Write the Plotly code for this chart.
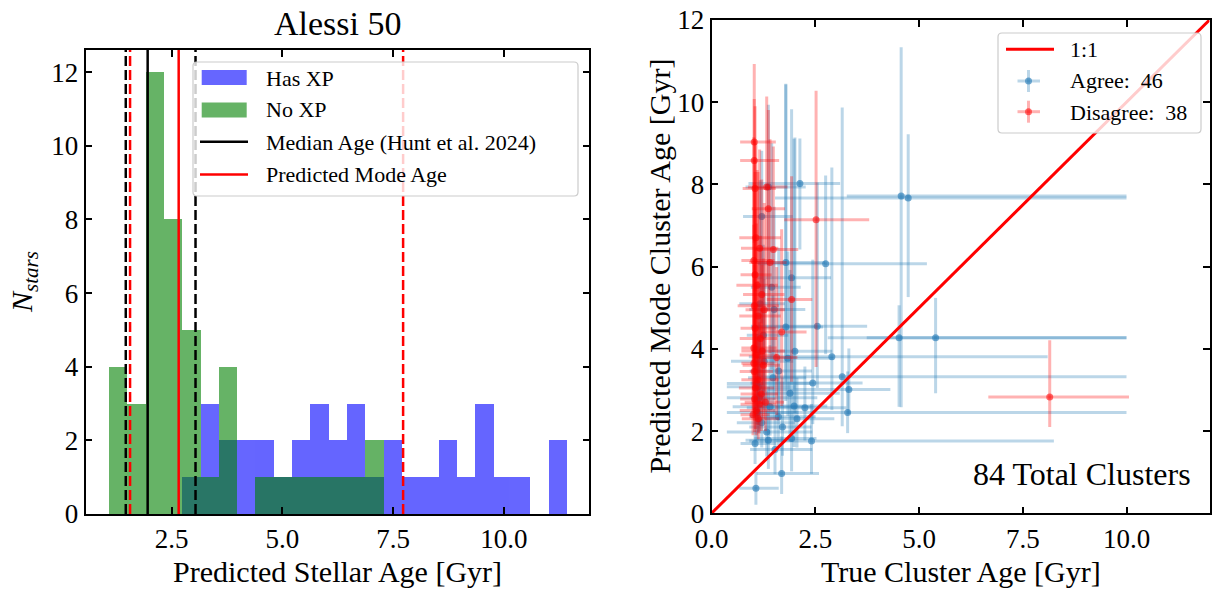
import numpy as np
import plotly.graph_objects as go

W, H = 1213, 590

# ---------------- Alessi 50 histogram (shared bins) ----------------
bin_lo, bin_hi, n_bins = 1.074, 11.41, 25
has_xp_counts = [0, 0, 0, 0, 1, 3, 2, 2, 2, 1, 2, 3, 2, 3, 1, 2, 1, 1, 2, 1, 3, 1, 1, 0, 2]
no_xp_counts = [4, 3, 12, 8, 5, 1, 4, 0, 1, 1, 1, 1, 1, 1, 2, 0, 0, 0, 0, 0, 0, 0, 0, 0, 0]

median_age = 1.96          # Hunt et al. 2024
median_age_bounds = [1.466, 3.04]
mode_age = 2.66            # predicted mode
mode_age_bounds = [1.563, 7.725]

# ---------------- cluster comparison ----------------
# true age, predicted age, x err (-), x err (+), y err (-), y err (+)
agree_x = [2.13, 1.21, 4.57, 4.74, 1.79, 2.75, 1.93, 1.51, 4.52, 5.40, 2.01, 2.90, 3.15, 3.31, 3.28, 2.25,
           2.41, 1.69, 1.07, 1.37, 1.93, 1.09, 1.33, 1.61, 1.84, 1.25, 1.37, 1.89, 1.15, 1.41, 1.21, 1.05,
           1.13, 1.62, 1.99, 1.79, 1.45, 1.27, 2.44, 1.53, 1.17, 2.55, 1.71, 2.06, 1.10, 1.48]
agree_y = [8.02, 7.22, 7.72, 7.67, 6.10, 6.07, 5.73, 4.96, 4.27, 4.27, 3.94, 3.81, 3.32, 3.01, 2.45, 2.57,
           1.76, 0.97, 0.61, 1.78, 1.82, 3.16, 1.98, 2.35, 3.77, 4.33, 7.94, 2.92, 2.81, 2.59, 2.20, 1.70,
           3.08, 3.46, 2.61, 4.53, 5.50, 3.70, 3.17, 1.55, 5.10, 4.55, 2.10, 2.30, 2.45, 3.30]
agree_xm = [1.24, 0.45, 1.31, 3.21, 0.75, 1.63, 0.85, 0.60, 0.78, 2.60, 1.00, 2.00, 2.00, 2.30, 2.20, 1.40,
            1.50, 0.60, 0.40, 0.55, 0.90, 0.72, 0.96, 0.70, 0.70, 0.40, 0.55, 0.80, 0.78, 0.90, 0.60, 0.35,
            0.76, 0.70, 0.90, 0.80, 0.50, 0.80, 1.50, 0.60, 0.50, 1.60, 0.80, 1.00, 0.73, 0.60]
agree_xp = [0.97, 0.75, 5.43, 5.26, 0.95, 2.44, 0.95, 0.75, 5.48, 4.60, 0.90, 5.20, 6.85, 1.00, 6.72, 1.00,
            5.84, 0.90, 0.55, 0.60, 0.60, 1.30, 1.10, 0.90, 1.10, 0.60, 0.90, 1.20, 1.40, 1.00, 0.80, 0.50,
            0.90, 0.80, 0.80, 0.90, 0.70, 0.70, 1.20, 0.90, 0.60, 1.20, 0.70, 0.90, 1.00, 0.80]
agree_ym = [1.60, 2.60, 5.14, 2.41, 2.90, 2.20, 2.60, 2.20, 1.68, 1.35, 1.50, 1.30, 1.20, 0.60, 0.50, 0.80,
            0.80, 0.50, 0.40, 0.70, 0.80, 1.00, 0.60, 0.70, 1.40, 1.70, 3.00, 1.00, 0.80, 0.70, 0.60, 0.50,
            1.10, 1.20, 1.00, 1.80, 2.00, 1.20, 1.00, 0.60, 1.80, 1.50, 0.70, 0.70, 0.70, 1.00]
agree_yp = [1.10, 1.60, 3.62, 1.55, 4.35, 2.15, 4.10, 2.50, 0.79, 0.97, 5.20, 4.60, 6.55, 1.00, 1.00, 1.00,
            0.90, 0.90, 0.40, 1.30, 1.20, 1.20, 1.00, 1.30, 2.60, 2.20, 2.00, 3.00, 1.50, 1.50, 1.00, 1.20,
            2.00, 3.00, 6.50, 5.90, 3.50, 2.00, 3.00, 1.00, 3.00, 3.50, 1.20, 1.00, 1.30, 2.00]

disagree_x = [1.03, 1.03, 1.05, 1.37, 2.52, 1.07, 1.49, 1.41, 1.93, 1.69, 1.57, 8.15, 1.33, 1.21, 1.02, 1.05,
              1.10, 1.03, 1.12, 1.05, 1.18, 1.02, 1.08, 1.25, 1.03, 1.12, 1.06, 1.20, 1.04, 1.15, 1.08, 1.00,
              1.13, 1.27, 1.30, 1.16, 1.22, 1.02]
disagree_y = [9.03, 8.58, 7.90, 7.41, 7.14, 6.70, 6.42, 6.10, 5.20, 4.41, 3.79, 2.83, 7.94, 5.32, 6.15, 5.80,
              5.55, 5.05, 4.80, 4.50, 4.25, 4.02, 3.85, 3.60, 3.45, 3.25, 3.05, 2.90, 2.78, 2.65, 2.50, 2.40,
              2.30, 4.95, 2.70, 6.45, 3.95, 3.65]
disagree_xm = [0.34, 0.34, 0.30, 0.40, 0.77, 0.40, 0.45, 0.50, 0.60, 0.50, 0.50, 1.48, 0.45, 0.45, 0.30, 0.35,
               0.50, 0.40, 0.45, 0.35, 0.50, 0.30, 0.40, 0.50, 0.35, 0.40, 0.40, 0.50, 0.35, 0.45, 0.40, 0.30,
               0.40, 0.45, 0.50, 0.45, 0.50, 0.30]
disagree_xp = [0.52, 0.60, 0.50, 0.40, 1.28, 0.60, 0.60, 0.40, 0.50, 0.60, 0.50, 1.91, 0.50, 0.55, 0.50, 0.40,
               0.50, 0.60, 0.55, 0.50, 0.40, 0.55, 0.50, 0.40, 0.45, 0.50, 0.45, 0.40, 0.50, 0.40, 0.45, 0.40,
               0.50, 0.50, 0.45, 0.45, 0.55, 0.50]
disagree_ym = [1.80, 2.00, 2.50, 2.50, 3.58, 2.80, 2.50, 2.20, 2.00, 1.80, 1.40, 0.73, 2.40, 2.20, 2.50, 2.30,
               2.40, 2.00, 2.00, 1.80, 1.60, 1.50, 1.50, 1.30, 1.20, 1.10, 1.00, 0.90, 0.80, 0.70, 0.60, 0.50,
               0.50, 2.00, 0.70, 2.60, 1.40, 1.30]
disagree_yp = [1.90, 1.50, 2.00, 2.40, 3.14, 2.30, 2.50, 3.00, 3.00, 2.50, 2.20, 1.38, 2.20, 2.80, 3.00, 2.50,
               2.80, 3.00, 3.50, 2.90, 2.50, 3.00, 3.20, 2.60, 2.60, 2.40, 2.50, 2.10, 2.20, 2.00, 1.80, 1.70,
               1.50, 2.60, 2.30, 2.40, 2.10, 3.60]

one_to_one = [0, 12]

# ---------------- styling ----------------
FONT = "Liberation Serif"
TICK_FS, LABEL_FS, LEG_FS = 27, 30, 22
BLUE_T = "rgba(31,119,180,0.3)"
BLUE_M = "rgba(31,119,180,0.6)"
RED_T = "rgba(255,0,0,0.3)"
RED_M = "rgba(255,0,0,0.55)"


def fx(p):
    return p / W


def fy(p):
    return 1 - p / H


edges = np.linspace(bin_lo, bin_hi, n_bins + 1)
centers = 0.5 * (edges[:-1] + edges[1:])
bw = edges[1] - edges[0]
span = edges[-1] - edges[0]
hist_xrange = [edges[0] - 0.05 * span, edges[-1] + 0.05 * span]
hist_yrange = [0, 1.05 * max(max(has_xp_counts), max(no_xp_counts))]

fig = go.Figure()

fig.add_trace(go.Bar(x=centers, y=has_xp_counts, width=bw, marker=dict(color="blue", line=dict(width=0)),
                     opacity=0.6, xaxis="x", yaxis="y", showlegend=False))
fig.add_trace(go.Bar(x=centers, y=no_xp_counts, width=bw, marker=dict(color="green", line=dict(width=0)),
                     opacity=0.6, xaxis="x", yaxis="y", showlegend=False))

fig.add_trace(go.Scatter(
    x=agree_x, y=agree_y, mode="markers", xaxis="x2", yaxis="y2", showlegend=False,
    marker=dict(color=BLUE_M, size=7, line=dict(width=0)),
    error_x=dict(type="data", symmetric=False, array=agree_xp, arrayminus=agree_xm, color=BLUE_T, thickness=3, width=0),
    error_y=dict(type="data", symmetric=False, array=agree_yp, arrayminus=agree_ym, color=BLUE_T, thickness=3, width=0),
))
fig.add_trace(go.Scatter(
    x=disagree_x, y=disagree_y, mode="markers", xaxis="x2", yaxis="y2", showlegend=False,
    marker=dict(color=RED_M, size=7, line=dict(width=0)),
    error_x=dict(type="data", symmetric=False, array=disagree_xp, arrayminus=disagree_xm, color=RED_T, thickness=3, width=0),
    error_y=dict(type="data", symmetric=False, array=disagree_yp, arrayminus=disagree_ym, color=RED_T, thickness=3, width=0),
))
fig.add_trace(go.Scatter(x=one_to_one, y=one_to_one, mode="lines", line=dict(color="red", width=3),
                         xaxis="x2", yaxis="y2", showlegend=False))

shapes = []
for xv in median_age_bounds:
    shapes.append(dict(type="line", xref="x", yref="y domain", x0=xv, x1=xv, y0=0, y1=1,
                       line=dict(color="black", width=2.5, dash="10px,4px")))
for xv in mode_age_bounds:
    shapes.append(dict(type="line", xref="x", yref="y domain", x0=xv, x1=xv, y0=0, y1=1,
                       line=dict(color="red", width=2.5, dash="10px,4px")))
shapes.append(dict(type="line", xref="x", yref="y domain", x0=median_age, x1=median_age, y0=0, y1=1,
                   line=dict(color="black", width=2.5)))
shapes.append(dict(type="line", xref="x", yref="y domain", x0=mode_age, x1=mode_age, y0=0, y1=1,
                   line=dict(color="red", width=2.5)))


def rounded_box(x0, y0, x1, y1, r=4):
    # pixel box -> paper-space SVG path with rounded corners
    rx, ry = r / W, r / H
    a, b, c, d = fx(x0), fy(y0), fx(x1), fy(y1)  # b is top, d is bottom
    return (f"M {a+rx},{b} L {c-rx},{b} Q {c},{b} {c},{b-ry} L {c},{d+ry} Q {c},{d} {c-rx},{d} "
            f"L {a+rx},{d} Q {a},{d} {a},{d+ry} L {a},{b-ry} Q {a},{b} {a+rx},{b} Z")


annotations = []


def legend_text(x, y, s):
    annotations.append(dict(text=s, x=fx(x), y=fy(y), xref="paper", yref="paper", xanchor="left",
                            yanchor="middle", showarrow=False, font=dict(family=FONT, size=LEG_FS, color="black")))


# legend of the histogram panel
shapes.append(dict(type="path", xref="paper", yref="paper", path=rounded_box(193, 62, 578, 196),
                   fillcolor="rgba(255,255,255,0.8)", line=dict(color="#cccccc", width=1.2)))
shapes.append(dict(type="rect", xref="paper", yref="paper", x0=fx(201.7), x1=fx(246.7), y0=fy(85), y1=fy(70),
                   fillcolor="blue", opacity=0.6, line=dict(width=0)))
shapes.append(dict(type="rect", xref="paper", yref="paper", x0=fx(201.7), x1=fx(246.7), y0=fy(117.5), y1=fy(102.5),
                   fillcolor="green", opacity=0.6, line=dict(width=0)))
shapes.append(dict(type="line", xref="paper", yref="paper", x0=fx(200), x1=fx(248), y0=fy(141.7), y1=fy(141.7),
                   line=dict(color="black", width=2.5)))
shapes.append(dict(type="line", xref="paper", yref="paper", x0=fx(200), x1=fx(248), y0=fy(174.5), y1=fy(174.5),
                   line=dict(color="red", width=2.5)))
legend_text(264, 78, "Has XP")
legend_text(264, 110, "No XP")
legend_text(264, 142, "Median Age (Hunt et al. 2024)")
legend_text(264, 174, "Predicted Mode Age")

# legend of the comparison panel
shapes.append(dict(type="path", xref="paper", yref="paper", path=rounded_box(998, 33, 1201, 133),
                   fillcolor="rgba(255,255,255,0.8)", line=dict(color="#cccccc", width=1.2)))
shapes.append(dict(type="line", xref="paper", yref="paper", x0=fx(1006), x1=fx(1054), y0=fy(49.3), y1=fy(49.3),
                   line=dict(color="red", width=3)))
for cy, tcol, mcol in [(81, BLUE_T, BLUE_M), (111.7, RED_T, RED_M)]:
    shapes.append(dict(type="line", xref="paper", yref="paper", x0=fx(1017.5), x1=fx(1040), y0=fy(cy), y1=fy(cy),
                       line=dict(color=tcol, width=3)))
    shapes.append(dict(type="line", xref="paper", yref="paper", x0=fx(1028.5), x1=fx(1028.5), y0=fy(cy - 11),
                       y1=fy(cy + 11), line=dict(color=tcol, width=3)))
    shapes.append(dict(type="circle", xref="paper", yref="paper", x0=fx(1025), x1=fx(1032), y0=fy(cy + 3.5),
                       y1=fy(cy - 3.5), fillcolor=mcol, line=dict(width=0)))
legend_text(1068, 49, "1:1")
legend_text(1068, 81, f"Agree:  {len(agree_x)}")
legend_text(1068, 112, f"Disagree:  {len(disagree_x)}")

total = len(agree_x) + len(disagree_x)
annotations += [
    dict(text="Alessi 50", x=fx(337.5), y=fy(23), xref="paper", yref="paper", showarrow=False,
         font=dict(family=FONT, size=34, color="black"), xanchor="center", yanchor="middle"),
    dict(text="Predicted Stellar Age [Gyr]", x=fx(337.5), y=fy(571), xref="paper", yref="paper", showarrow=False,
         font=dict(family=FONT, size=LABEL_FS, color="black"), xanchor="center", yanchor="middle"),
    dict(text="<i>N</i><sub><i>stars</i></sub>", x=fx(24), y=fy(282), xref="paper", yref="paper", showarrow=False,
         textangle=-90, font=dict(family=FONT, size=LABEL_FS, color="black"), xanchor="center", yanchor="middle"),
    dict(text="True Cluster Age [Gyr]", x=fx(960.5), y=fy(571), xref="paper", yref="paper", showarrow=False,
         font=dict(family=FONT, size=LABEL_FS, color="black"), xanchor="center", yanchor="middle"),
    dict(text="Predicted Mode Cluster Age [Gyr]", x=fx(659), y=fy(266.5), xref="paper", yref="paper",
         showarrow=False, textangle=-90, font=dict(family=FONT, size=LABEL_FS, color="black"),
         xanchor="center", yanchor="middle"),
    dict(text=f"{total} Total Clusters", x=fx(1193), y=fy(474), xref="paper", yref="paper", showarrow=False,
         font=dict(family=FONT, size=32, color="black"), xanchor="right", yanchor="middle"),
]

axis_common = dict(showgrid=False, zeroline=False, showline=True, linecolor="black", linewidth=1.6,
                   mirror="allticks", ticks="inside", ticklen=7, tickwidth=1.5, tickcolor="black",
                   automargin=False, tickfont=dict(family=FONT, size=TICK_FS, color="black"))

fig.update_layout(
    width=W, height=H, margin=dict(l=0, r=0, t=0, b=0, autoexpand=False),
    paper_bgcolor="white", plot_bgcolor="white", barmode="overlay", bargap=0,
    xaxis=dict(domain=[fx(85.5), fx(589.3)], range=hist_xrange, tick0=0, dtick=2.5, tickformat=".1f",
               anchor="y", **axis_common),
    yaxis=dict(domain=[fy(514), fy(50)], range=hist_yrange, tick0=0, dtick=2, anchor="x", **axis_common),
    xaxis2=dict(domain=[fx(711.5), fx(1209.5)], range=[0, 12], tick0=0, dtick=2.5, tickformat=".1f",
                anchor="y2", **axis_common),
    yaxis2=dict(domain=[fy(513.3), fy(20)], range=[0, 12], tick0=0, dtick=2, anchor="x2", **axis_common),
    shapes=shapes, annotations=annotations, showlegend=False,
)

fig.write_html("out.html")
